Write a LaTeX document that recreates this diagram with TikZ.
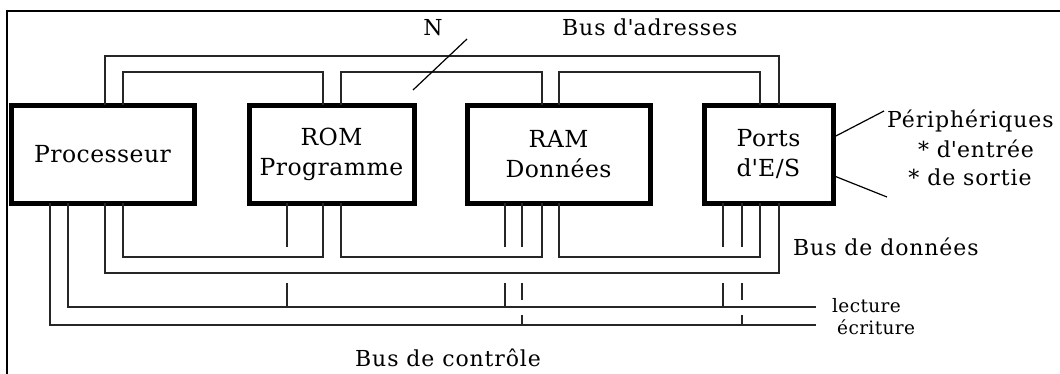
\documentclass[tikz,border=0pt]{standalone}
\usepackage{fontspec}
\setmainfont{DejaVu Serif}
\newfontfamily\boxfont[LetterSpace=2]{DejaVu Serif}
\newfontfamily\lblfont[LetterSpace=4]{DejaVu Serif}
\newfontfamily\smallfont[LetterSpace=2]{DejaVu Serif}
\usetikzlibrary{calc}
\begin{document}
\begin{tikzpicture}[x=1pt,y=-1pt,
  box/.style={draw, line width=5pt, outer sep=0pt, inner sep=0pt, align=center,
    font=\boxfont\fontsize{23.5}{30}\selectfont},
  wire/.style={line width=1.6pt, draw=black!85},
  lbl/.style={inner sep=0pt, font=\lblfont\fontsize{22}{28}\selectfont},
  small/.style={inner sep=0pt, font=\smallfont\fontsize{18.5}{22}\selectfont}
]
\useasboundingbox (0,0) rectangle (1060,374);
% frame
\coordinate (fbl) at (7,374);
\coordinate (ftl) at (7,11);
\coordinate (ftr) at (1060,11);
\draw[line width=1.5pt] (fbl) -- (ftl) -- (ftr);

% boxes
\node[box, minimum width=183pt, minimum height=98pt] (proc) at (102.5,154.5) {Processeur};
\node[box, minimum width=165pt, minimum height=98pt] (rom) at (331.5,154.5) {ROM\\Programme};
\node[box, minimum width=183pt, minimum height=98pt] (ram) at (558.5,154.5) {RAM\\Donn\'ees};
\node[box, minimum width=129pt, minimum height=98pt] (ports) at (768.5,154.5) {Ports\\d\textquotesingle E/S};

% rails
\coordinate (rAo) at (0,56);
\coordinate (rAi) at (0,72);
\coordinate (rDi) at (0,257);
\coordinate (rDo) at (0,273);
\coordinate (rL) at (0,307);
\coordinate (rE) at (0,325);
\coordinate (sEnd) at (0,247);
\coordinate (sStart) at (0,283);
\coordinate (gTop) at (0,300);
\coordinate (gBot) at (0,315);
\coordinate (cEnd) at (816,0);

% taps
\coordinate (pT1) at ([xshift=94pt]proc.north west);
\coordinate (pT2) at ([xshift=112pt]proc.north west);
\coordinate (pB1) at ([xshift=94pt]proc.south west);
\coordinate (pB2) at ([xshift=112pt]proc.south west);
\coordinate (pL) at ([xshift=57pt]proc.south west);
\coordinate (pE) at ([xshift=39pt]proc.south west);
\coordinate (rT1) at ([xshift=74pt]rom.north west);
\coordinate (rT2) at ([xshift=92pt]rom.north west);
\coordinate (rB1) at ([xshift=74pt]rom.south west);
\coordinate (rB2) at ([xshift=92pt]rom.south west);
\coordinate (rLt) at ([xshift=38pt]rom.south west);
\coordinate (mT1) at ([xshift=75pt]ram.north west);
\coordinate (mT2) at ([xshift=92pt]ram.north west);
\coordinate (mB1) at ([xshift=75pt]ram.south west);
\coordinate (mB2) at ([xshift=92pt]ram.south west);
\coordinate (mLt) at ([xshift=38pt]ram.south west);
\coordinate (mEt) at ([xshift=55pt]ram.south west);
\coordinate (oT1) at ([xshift=56pt]ports.north west);
\coordinate (oT2) at ([xshift=75pt]ports.north west);
\coordinate (oB1) at ([xshift=56pt]ports.south west);
\coordinate (oB2) at ([xshift=75pt]ports.south west);
\coordinate (oLt) at ([xshift=19pt]ports.south west);
\coordinate (oEt) at ([xshift=38pt]ports.south west);

% address bus
\draw[wire] (pT1) -- (pT1 |- rAo) -- (oT2 |- rAo) -- (oT2);
\draw[wire] (pT2) -- (pT2 |- rAi) -- (rT1 |- rAi) -- (rT1);
\draw[wire] (rT2) -- (rT2 |- rAi) -- (mT1 |- rAi) -- (mT1);
\draw[wire] (mT2) -- (mT2 |- rAi) -- (oT1 |- rAi) -- (oT1);
% data bus
\draw[wire] (pB1) -- (pB1 |- rDo) -- (oB2 |- rDo) -- (oB2);
\draw[wire] (pB2) -- (pB2 |- rDi) -- (rB1 |- rDi) -- (rB1);
\draw[wire] (rB2) -- (rB2 |- rDi) -- (mB1 |- rDi) -- (mB1);
\draw[wire] (mB2) -- (mB2 |- rDi) -- (oB1 |- rDi) -- (oB1);
% control bus
\draw[wire] (pL) -- (pL |- rL) -- (cEnd |- rL);
\draw[wire] (pE) -- (pE |- rE) -- (cEnd |- rE);
\foreach \t in {rLt,mLt,oLt}{
  \draw[wire] (\t) -- (\t |- sEnd);
  \draw[wire] (\t |- sStart) -- (\t |- rL);
}
\foreach \t in {mEt,oEt}{
  \draw[wire] (\t) -- (\t |- sEnd);
  \draw[wire] (\t |- sStart) -- (\t |- gTop);
  \draw[wire] (\t |- gBot) -- (\t |- rE);
}

% N slash
\coordinate (s1) at (413,90);
\coordinate (s2) at (467,39);
\draw[line width=1.2pt] (s1) -- (s2);
\node[lbl, anchor=base] (N) at (433,36) {N};

% labels
\node[lbl, anchor=base west] (adr) at (562,36) {Bus d\textquotesingle adresses};
\node[lbl, anchor=base west] (don) at (793,255) {Bus de donn\'ees};
\node[lbl, anchor=base west] (ctl) at (355,366) {Bus de contr\^ole};
\node[small, anchor=base west] (lec) at (832,312) {lecture};
\node[small, anchor=base west] (ecr) at (837,334) {\'ecriture};
\node[lbl, anchor=base west] (per) at (887,128) {P\'eriph\'eriques};
\node[lbl, anchor=base] (ent) at (976,158) {* d\textquotesingle entr\'ee};
\node[lbl, anchor=base] (sor) at (970,186) {* de sortie};

% peripheral links
\coordinate (pp1) at (884,111);
\coordinate (pp2) at (887,197);
\draw[line width=1.2pt] ($(ports.north east)+(0,32)$) -- (pp1);
\draw[line width=1.2pt] ($(ports.north east)+(0,70)$) -- (pp2);
\end{tikzpicture}
\end{document}
